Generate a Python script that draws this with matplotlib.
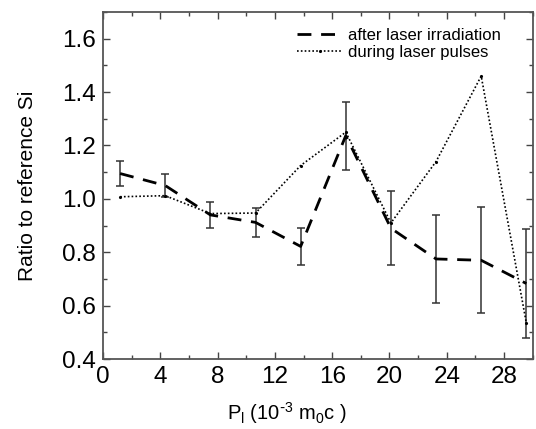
import matplotlib
matplotlib.use("Agg")
import matplotlib.pyplot as plt
from matplotlib.ticker import MultipleLocator

plt.rcParams["font.family"] = ["Liberation Sans", "DejaVu Sans"]
plt.rcParams["mathtext.default"] = "regular"

# laser momentum P_l (10^-3 m0 c)
p_laser = [1.2, 4.35, 7.5, 10.65, 13.8, 16.95, 20.1, 23.25, 26.4, 29.55]

# after laser irradiation (with error bars)
ratio_after = [1.095, 1.05, 0.94, 0.912, 0.822, 1.237, 0.89, 0.775, 0.77, 0.683]
err_after = [0.046, 0.043, 0.048, 0.055, 0.07, 0.127, 0.139, 0.164, 0.198, 0.203]

# during laser pulses
ratio_during = [1.008, 1.012, 0.945, 0.947, 1.125, 1.25, 0.91, 1.14, 1.46, 0.535]

fig = plt.figure(figsize=(5.36, 4.29), dpi=100)
ax = fig.add_axes([0.192, 0.163, 0.802, 0.809])

ax.errorbar(p_laser, ratio_after, yerr=err_after, fmt="none", ecolor="#333333",
            elinewidth=1.1, capsize=3.2, capthick=1.1, zorder=2)
ax.plot(p_laser, ratio_after, color="black", lw=2.0, dashes=(5, 3.5),
        label="after laser irradiation", zorder=3)
ax.plot(p_laser, ratio_during, color="black", lw=1.2, ls=(0, (1, 1.3)),
        marker=".", markersize=2.5, label="during laser pulses", zorder=3)

ax.set_xlim(0, 30)
ax.set_ylim(0.4, 1.7)
ax.xaxis.set_major_locator(MultipleLocator(4))
ax.xaxis.set_minor_locator(MultipleLocator(2))
ax.yaxis.set_major_locator(MultipleLocator(0.2))
ax.yaxis.set_minor_locator(MultipleLocator(0.1))
ax.yaxis.set_major_formatter(matplotlib.ticker.FormatStrFormatter("%.1f"))

ax.tick_params(which="both", direction="in", top=True, right=True,
               color="#444444", width=1.0)
ax.tick_params(which="major", length=5.0, labelsize=17.5, pad=5)
ax.tick_params(which="minor", length=2.6)
for s in ax.spines.values():
    s.set_color("#555555")
    s.set_linewidth(1.3)

ax.set_xlabel(r"P$_l$ (10$^{\text{-}3}$ m$_0$c )", fontsize=14.5)
ax.xaxis.set_label_coords(0.428, -0.118)
ax.set_ylabel("Ratio to reference Si", fontsize=15, labelpad=18)

ax.legend(loc="upper left", bbox_to_anchor=(0.451, 0.955), frameon=False,
          fontsize=12, handlelength=2.8, handletextpad=0.25, labelspacing=0.15,
          borderpad=0, borderaxespad=0, numpoints=1)

fig.savefig("out.png", dpi=100)
